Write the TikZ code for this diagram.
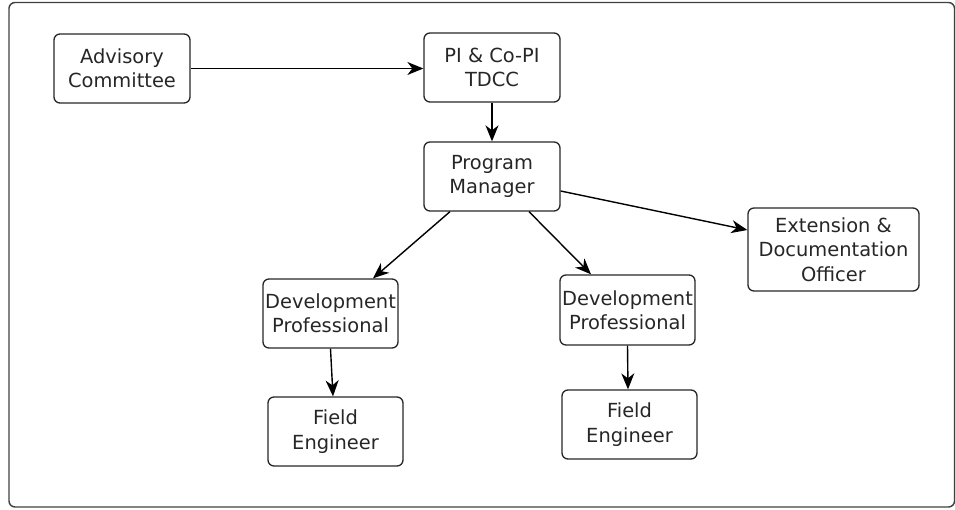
\documentclass[tikz,border=0pt]{standalone}
\usepackage{fontspec}
\setmainfont{DejaVu Sans}
\usetikzlibrary{arrows.meta,calc}
\begin{document}
\begin{tikzpicture}[x=1bp,y=-1bp,
  box/.style={draw=black!85, line width=1.3bp, rounded corners=6bp, align=center,
    inner sep=0pt, font=\fontsize{19.5}{24.5}\selectfont, text=black!85},
  conn/.style={draw=black, line width=1.4bp, -{Stealth[length=16bp,width=13bp,inset=5bp]}}]
\useasboundingbox (0,0) rectangle (955,510);
\draw[black!75, line width=1.4bp, rounded corners=6bp] (9,2.5) rectangle (954.5,507);
\node[box, minimum width=136bp, minimum height=69bp] (adv) at (122,68.5) {Advisory\\Committee};
\node[box, minimum width=136bp, minimum height=69bp] (pi) at (492,67.5) {PI \& Co-PI\\TDCC};
\node[box, minimum width=136bp, minimum height=69bp] (pm) at (492,176.5) {Program\\Manager};
\node[box, minimum width=171bp, minimum height=83bp] (ext) at (833.5,249.5) {Extension \&\\Documentation\\Officer};
\node[box, minimum width=135bp, minimum height=69bp] (devl) at (330.5,313.5) {Development\\Professional};
\node[box, minimum width=135bp, minimum height=69bp] (fieldl) at (335.5,431.5) {Field\\Engineer};
\node[box, minimum width=135bp, minimum height=70bp] (devr) at (627.5,310) {Development\\Professional};
\node[box, minimum width=135bp, minimum height=69bp] (fieldr) at (629.5,424.5) {Field\\Engineer};
\draw[conn] (adv.east) -- (adv.east -| pi.west);
\draw[conn] (pi.south) -- (pm.north);
\draw[conn] ($(pm.east)+(0,14.5)$) -- ($(ext.west)+(0,-19.5)$);
\draw[conn] ($(pm.south)+(-42,0)$) -- ($(devl.north)+(42.5,0)$);
\draw[conn] ($(pm.south)+(37,0)$) -- ($(devr.north)+(-36.5,0)$);
\draw[conn] (devl.south) -- ($(fieldl.north)+(-2.5,0)$);
\draw[conn] (devr.south) -- ($(fieldr.north)+(-1.5,0)$);
\end{tikzpicture}
\end{document}
